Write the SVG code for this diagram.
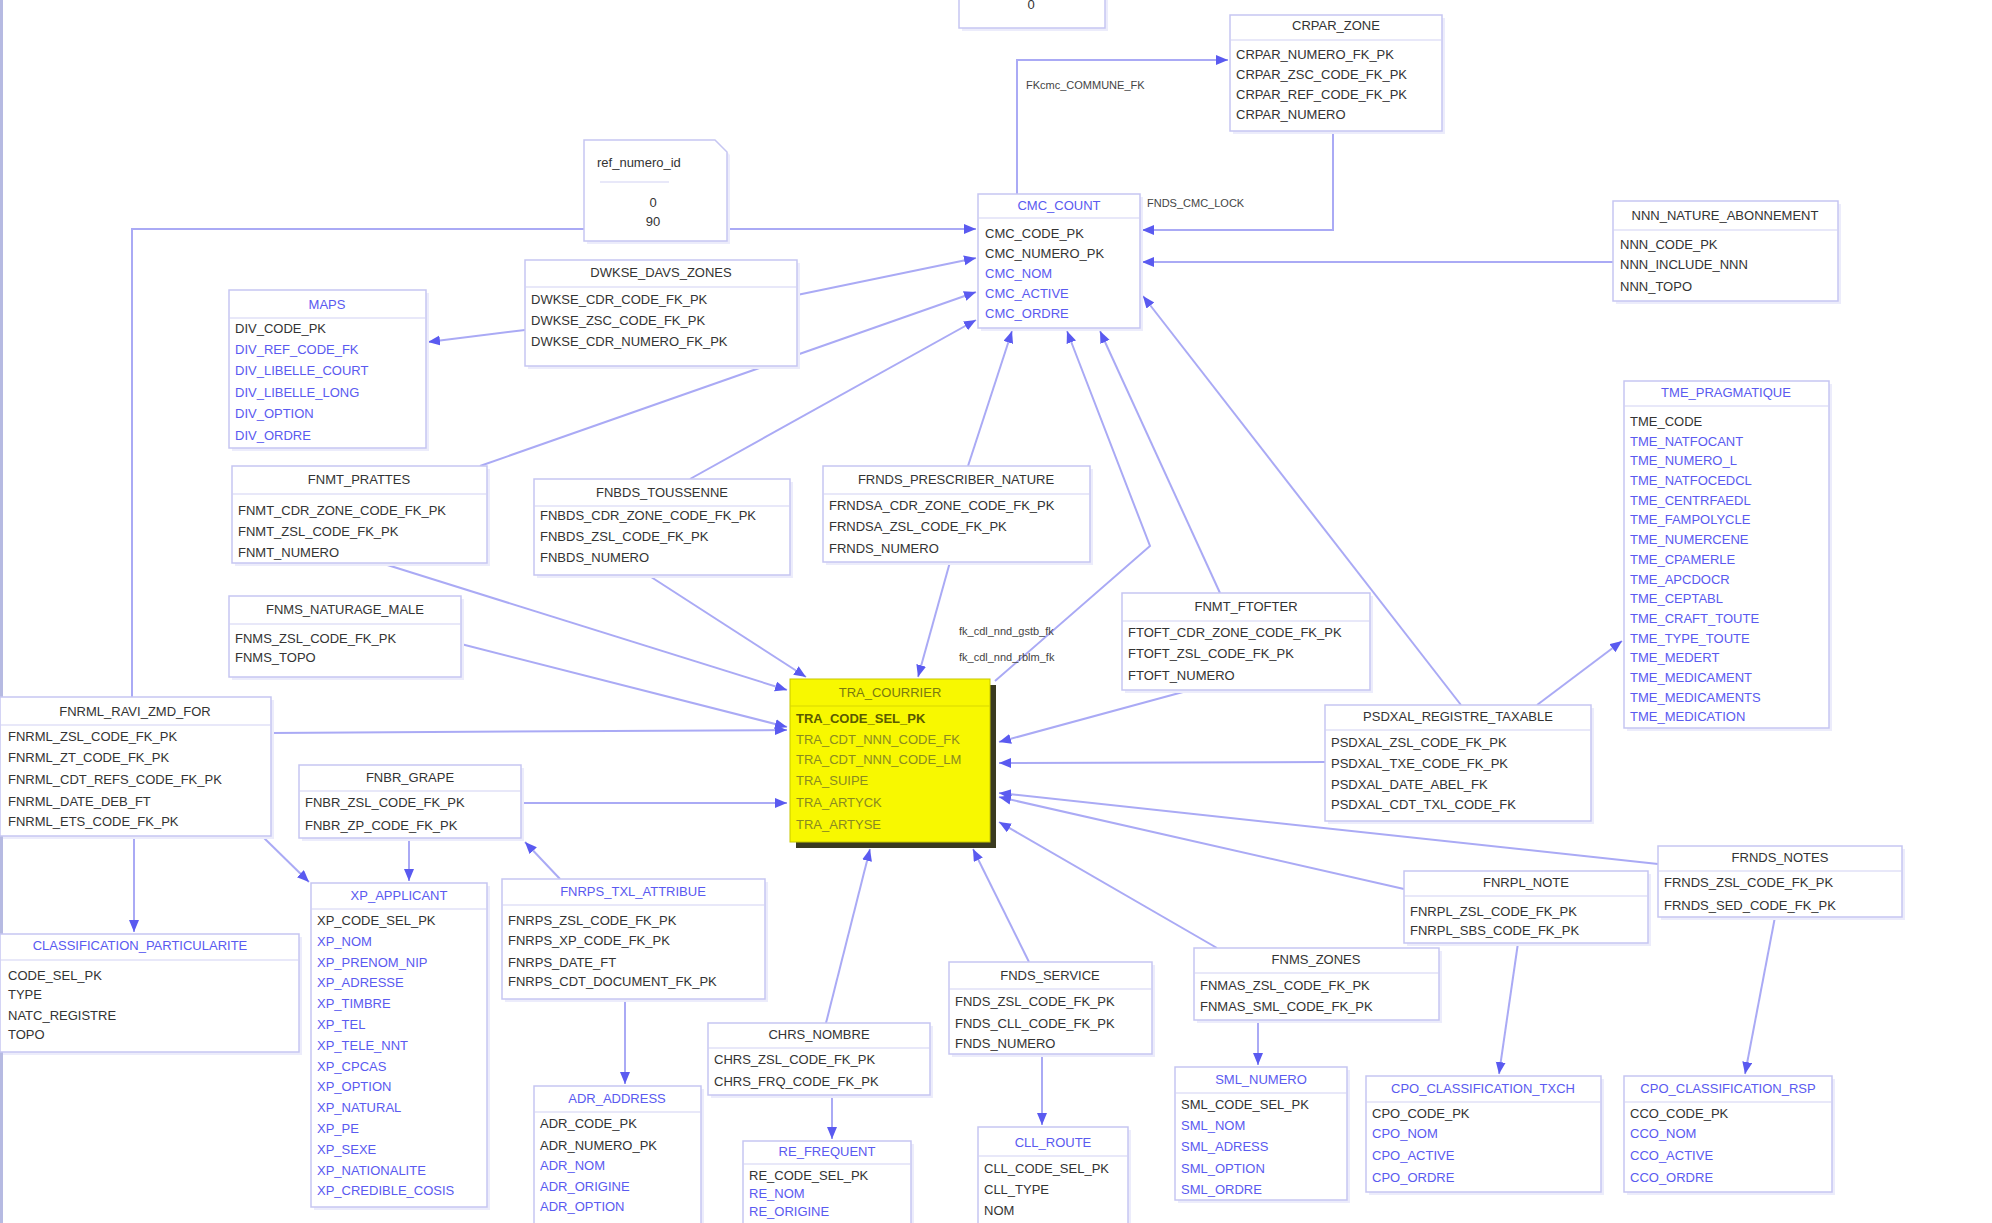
<svg xmlns="http://www.w3.org/2000/svg" width="1992" height="1223" viewBox="0 0 1992 1223">
<style>
text{font-family:"Liberation Sans",Arial,sans-serif;font-size:13px}
.box{fill:#fff;stroke:#c6c6f2;stroke-width:1.5}
.sh{fill:#ececfb}
.sep{stroke:#d2d2f4;stroke-width:1.2}
.h{fill:#333;text-anchor:middle}
.hb{fill:#5a5af0;text-anchor:middle}
.r{fill:#333}
.rb{fill:#5a5af0}
.lbl{fill:#444;font-size:11px}
.e{fill:none;stroke:#aaaaf5;stroke-width:2}
.yh{fill:#7a7a10;text-anchor:middle}
.yr{fill:#8a8a20}
.yk{fill:#5a5a00;font-weight:bold}
</style>
<defs>
<marker id="ah" markerUnits="userSpaceOnUse" markerWidth="14" markerHeight="12" refX="12" refY="5" orient="auto">
<path d="M0,0 L12,5 L0,10 z" fill="#5a5af0"/>
</marker>
</defs>
<rect x="0" y="0" width="1992" height="1223" fill="#fff"/>
<rect x="0" y="0" width="3" height="1223" fill="#b6bae2"/>

<g id="connectors" marker-end="url(#ah)">
<path class="e" d="M1017,194 V60 H1228"/>
<path class="e" d="M1333,131 V230 H1142"/>
<path class="e" d="M1613,262 H1142"/>
<path class="e" d="M1461,705 L1143,296"/>
<path class="e" d="M132,697 V229 H976"/>
<path class="e" d="M797,295 L976,258"/>
<path class="e" d="M480,466 L976,292"/>
<path class="e" d="M690,479 L976,320"/>
<path class="e" d="M968,466 L1012,331"/>
<path class="e" d="M995,681 L1150,546 L1067,331"/>
<path class="e" d="M1220,593 L1100,331"/>
<path class="e" d="M648,575 L806,677"/>
<path class="e" d="M950,562 L918,677"/>
<path class="e" d="M381,563 L787,690"/>
<path class="e" d="M461,644 L787,727"/>
<path class="e" d="M271,733 L787,730"/>
<path class="e" d="M521,803 L787,803"/>
<path class="e" d="M1194,689 L999,742"/>
<path class="e" d="M1325,762 L999,763"/>
<path class="e" d="M1658,864 L999,793"/>
<path class="e" d="M1404,889 L999,797"/>
<path class="e" d="M1217,948 L999,822"/>
<path class="e" d="M826,1023 L870,849"/>
<path class="e" d="M1029,962 L973,849"/>
<path class="e" d="M525,330 L428,342"/>
<path class="e" d="M409,838 V881"/>
<path class="e" d="M262,836 L309,882"/>
<path class="e" d="M560,879 L525,842"/>
<path class="e" d="M134,836 V932"/>
<path class="e" d="M625,999 V1084"/>
<path class="e" d="M832,1095 V1139"/>
<path class="e" d="M1042,1054 V1125"/>
<path class="e" d="M1258,1020 V1065"/>
<path class="e" d="M1518,943 L1499,1074"/>
<path class="e" d="M1775,917 L1745,1074"/>
<path class="e" d="M1537,705 L1622,641"/>
</g>

<g id="edge-labels">
<text class="lbl" x="1026" y="89">FKcmc_COMMUNE_FK</text>
<text class="lbl" x="1147" y="207">FNDS_CMC_LOCK</text>
<text class="lbl" x="959" y="635">fk_cdl_nnd_gstb_fk</text>
<text class="lbl" x="959" y="661">fk_cdl_nnd_rblm_fk</text>
</g>

<g id="n_top">
<rect class="sh" x="962" y="-3" width="146" height="34"/>
<rect class="box" x="959" y="-6" width="146" height="34"/>
<text class="h" x="1031" y="9">0</text>
</g>

<g id="n_crpar_zone">
<rect class="sh" x="1233" y="18" width="212" height="116"/>
<rect class="box" x="1230" y="15" width="212" height="116"/>
<text class="h" x="1336" y="30">CRPAR_ZONE</text>
<line class="sep" x1="1230" y1="40" x2="1442" y2="40"/>
<text class="r" x="1236" y="59">CRPAR_NUMERO_FK_PK</text>
<text class="r" x="1236" y="79">CRPAR_ZSC_CODE_FK_PK</text>
<text class="r" x="1236" y="99">CRPAR_REF_CODE_FK_PK</text>
<text class="r" x="1236" y="119">CRPAR_NUMERO</text>
</g>

<g id="n_ref_numero">
<path d="M587,143 H718 L730,155 V244 H587 Z" class="sh"/>
<path d="M584,140 H715 L727,152 V241 H584 Z" class="box"/>
<text class="r" x="597" y="167">ref_numero_id</text>
<line class="sep" x1="600" y1="182" x2="669" y2="182" stroke="#999"/>
<text class="h" x="653" y="207">0</text>
<text class="h" x="653" y="226">90</text>
</g>

<g id="n_cmc_count">
<rect class="sh" x="981" y="197" width="162" height="134"/>
<rect class="box" x="978" y="194" width="162" height="134"/>
<text class="hb" x="1059" y="210">CMC_COUNT</text>
<line class="sep" x1="978" y1="218" x2="1140" y2="218"/>
<text class="r" x="985" y="238">CMC_CODE_PK</text>
<text class="r" x="985" y="258">CMC_NUMERO_PK</text>
<text class="rb" x="985" y="278">CMC_NOM</text>
<text class="rb" x="985" y="298">CMC_ACTIVE</text>
<text class="rb" x="985" y="318">CMC_ORDRE</text>
</g>

<g id="n_nnn_nature">
<rect class="sh" x="1616" y="204" width="225" height="100"/>
<rect class="box" x="1613" y="201" width="225" height="100"/>
<text class="h" x="1725" y="220">NNN_NATURE_ABONNEMENT</text>
<line class="sep" x1="1613" y1="230" x2="1838" y2="230"/>
<text class="r" x="1620" y="249">NNN_CODE_PK</text>
<text class="r" x="1620" y="269">NNN_INCLUDE_NNN</text>
<text class="r" x="1620" y="291">NNN_TOPO</text>
</g>

<g id="n_dwkse">
<rect class="sh" x="528" y="263" width="272" height="106"/>
<rect class="box" x="525" y="260" width="272" height="106"/>
<text class="h" x="661" y="277">DWKSE_DAVS_ZONES</text>
<line class="sep" x1="525" y1="287" x2="797" y2="287"/>
<text class="r" x="531" y="304">DWKSE_CDR_CODE_FK_PK</text>
<text class="r" x="531" y="325">DWKSE_ZSC_CODE_FK_PK</text>
<text class="r" x="531" y="346">DWKSE_CDR_NUMERO_FK_PK</text>
</g>

<g id="n_maps">
<rect class="sh" x="232" y="293" width="197" height="158"/>
<rect class="box" x="229" y="290" width="197" height="158"/>
<text class="hb" x="327" y="309">MAPS</text>
<line class="sep" x1="229" y1="318" x2="426" y2="318"/>
<text class="r" x="235" y="333">DIV_CODE_PK</text>
<text class="rb" x="235" y="354">DIV_REF_CODE_FK</text>
<text class="rb" x="235" y="375">DIV_LIBELLE_COURT</text>
<text class="rb" x="235" y="397">DIV_LIBELLE_LONG</text>
<text class="rb" x="235" y="418">DIV_OPTION</text>
<text class="rb" x="235" y="440">DIV_ORDRE</text>
</g>

<g id="n_fnmt_prattes">
<rect class="sh" x="235" y="469" width="255" height="97"/>
<rect class="box" x="232" y="466" width="255" height="97"/>
<text class="h" x="359" y="484">FNMT_PRATTES</text>
<line class="sep" x1="232" y1="494" x2="487" y2="494"/>
<text class="r" x="238" y="515">FNMT_CDR_ZONE_CODE_FK_PK</text>
<text class="r" x="238" y="536">FNMT_ZSL_CODE_FK_PK</text>
<text class="r" x="238" y="557">FNMT_NUMERO</text>
</g>

<g id="n_fnbds">
<rect class="sh" x="537" y="482" width="256" height="96"/>
<rect class="box" x="534" y="479" width="256" height="96"/>
<text class="h" x="662" y="497">FNBDS_TOUSSENNE</text>
<line class="sep" x1="534" y1="506" x2="790" y2="506"/>
<text class="r" x="540" y="520">FNBDS_CDR_ZONE_CODE_FK_PK</text>
<text class="r" x="540" y="541">FNBDS_ZSL_CODE_FK_PK</text>
<text class="r" x="540" y="562">FNBDS_NUMERO</text>
</g>

<g id="n_frnds_prescriber">
<rect class="sh" x="826" y="469" width="267" height="96"/>
<rect class="box" x="823" y="466" width="267" height="96"/>
<text class="h" x="956" y="484">FRNDS_PRESCRIBER_NATURE</text>
<line class="sep" x1="823" y1="494" x2="1090" y2="494"/>
<text class="r" x="829" y="510">FRNDSA_CDR_ZONE_CODE_FK_PK</text>
<text class="r" x="829" y="531">FRNDSA_ZSL_CODE_FK_PK</text>
<text class="r" x="829" y="553">FRNDS_NUMERO</text>
</g>

<g id="n_fnms_naturage">
<rect class="sh" x="232" y="599" width="232" height="81"/>
<rect class="box" x="229" y="596" width="232" height="81"/>
<text class="h" x="345" y="614">FNMS_NATURAGE_MALE</text>
<line class="sep" x1="229" y1="624" x2="461" y2="624"/>
<text class="r" x="235" y="643">FNMS_ZSL_CODE_FK_PK</text>
<text class="r" x="235" y="662">FNMS_TOPO</text>
</g>

<g id="n_fnmt_ftofter">
<rect class="sh" x="1125" y="596" width="248" height="97"/>
<rect class="box" x="1122" y="593" width="248" height="97"/>
<text class="h" x="1246" y="611">FNMT_FTOFTER</text>
<line class="sep" x1="1122" y1="621" x2="1370" y2="621"/>
<text class="r" x="1128" y="637">FTOFT_CDR_ZONE_CODE_FK_PK</text>
<text class="r" x="1128" y="658">FTOFT_ZSL_CODE_FK_PK</text>
<text class="r" x="1128" y="680">FTOFT_NUMERO</text>
</g>

<g id="n_tra_courrier">
<rect x="796" y="685" width="200" height="163" fill="#3a3a20"/>
<rect x="790" y="679" width="200" height="163" fill="#f8f800" stroke="#c8c800" stroke-width="1"/>
<text class="yh" x="890" y="697">TRA_COURRIER</text>
<line x1="790" y1="706" x2="990" y2="706" stroke="#d8d800"/>
<text class="yk" x="796" y="723">TRA_CODE_SEL_PK</text>
<text class="yr" x="796" y="744">TRA_CDT_NNN_CODE_FK</text>
<text class="yr" x="796" y="764">TRA_CDT_NNN_CODE_LM</text>
<text class="yr" x="796" y="785">TRA_SUIPE</text>
<text class="yr" x="796" y="807">TRA_ARTYCK</text>
<text class="yr" x="796" y="829">TRA_ARTYSE</text>
</g>

<g id="n_fnrml">
<rect class="sh" x="3" y="700" width="271" height="139"/>
<rect class="box" x="0" y="697" width="271" height="139"/>
<text class="h" x="135" y="716">FNRML_RAVI_ZMD_FOR</text>
<line class="sep" x1="0" y1="725" x2="271" y2="725"/>
<text class="r" x="8" y="741">FNRML_ZSL_CODE_FK_PK</text>
<text class="r" x="8" y="762">FNRML_ZT_CODE_FK_PK</text>
<text class="r" x="8" y="784">FNRML_CDT_REFS_CODE_FK_PK</text>
<text class="r" x="8" y="806">FNRML_DATE_DEB_FT</text>
<text class="r" x="8" y="826">FNRML_ETS_CODE_FK_PK</text>
</g>

<g id="n_fnbr_grape">
<rect class="sh" x="302" y="768" width="222" height="73"/>
<rect class="box" x="299" y="765" width="222" height="73"/>
<text class="h" x="410" y="782">FNBR_GRAPE</text>
<line class="sep" x1="299" y1="791" x2="521" y2="791"/>
<text class="r" x="305" y="807">FNBR_ZSL_CODE_FK_PK</text>
<text class="r" x="305" y="830">FNBR_ZP_CODE_FK_PK</text>
</g>

<g id="n_psdxal">
<rect class="sh" x="1328" y="708" width="266" height="116"/>
<rect class="box" x="1325" y="705" width="266" height="116"/>
<text class="h" x="1458" y="721">PSDXAL_REGISTRE_TAXABLE</text>
<line class="sep" x1="1325" y1="730" x2="1591" y2="730"/>
<text class="r" x="1331" y="747">PSDXAL_ZSL_CODE_FK_PK</text>
<text class="r" x="1331" y="768">PSDXAL_TXE_CODE_FK_PK</text>
<text class="r" x="1331" y="789">PSDXAL_DATE_ABEL_FK</text>
<text class="r" x="1331" y="809">PSDXAL_CDT_TXL_CODE_FK</text>
</g>

<g id="n_tme_pragmatique">
<rect class="sh" x="1627" y="384" width="205" height="347"/>
<rect class="box" x="1624" y="381" width="205" height="347"/>
<text class="hb" x="1726" y="397">TME_PRAGMATIQUE</text>
<line class="sep" x1="1624" y1="406" x2="1829" y2="406"/>
<text class="r" x="1630" y="426">TME_CODE</text>
<text class="rb" x="1630" y="446">TME_NATFOCANT</text>
<text class="rb" x="1630" y="465">TME_NUMERO_L</text>
<text class="rb" x="1630" y="485">TME_NATFOCEDCL</text>
<text class="rb" x="1630" y="505">TME_CENTRFAEDL</text>
<text class="rb" x="1630" y="524">TME_FAMPOLYCLE</text>
<text class="rb" x="1630" y="544">TME_NUMERCENE</text>
<text class="rb" x="1630" y="564">TME_CPAMERLE</text>
<text class="rb" x="1630" y="584">TME_APCDOCR</text>
<text class="rb" x="1630" y="603">TME_CEPTABL</text>
<text class="rb" x="1630" y="623">TME_CRAFT_TOUTE</text>
<text class="rb" x="1630" y="643">TME_TYPE_TOUTE</text>
<text class="rb" x="1630" y="662">TME_MEDERT</text>
<text class="rb" x="1630" y="682">TME_MEDICAMENT</text>
<text class="rb" x="1630" y="702">TME_MEDICAMENTS</text>
<text class="rb" x="1630" y="721">TME_MEDICATION</text>
</g>

<g id="n_frnds_notes">
<rect class="sh" x="1661" y="849" width="244" height="71"/>
<rect class="box" x="1658" y="846" width="244" height="71"/>
<text class="h" x="1780" y="862">FRNDS_NOTES</text>
<line class="sep" x1="1658" y1="871" x2="1902" y2="871"/>
<text class="r" x="1664" y="887">FRNDS_ZSL_CODE_FK_PK</text>
<text class="r" x="1664" y="910">FRNDS_SED_CODE_FK_PK</text>
</g>

<g id="n_fnrpl_note">
<rect class="sh" x="1407" y="874" width="244" height="72"/>
<rect class="box" x="1404" y="871" width="244" height="72"/>
<text class="h" x="1526" y="887">FNRPL_NOTE</text>
<line class="sep" x1="1404" y1="896" x2="1648" y2="896"/>
<text class="r" x="1410" y="916">FNRPL_ZSL_CODE_FK_PK</text>
<text class="r" x="1410" y="935">FNRPL_SBS_CODE_FK_PK</text>
</g>

<g id="n_fnms_zones">
<rect class="sh" x="1197" y="951" width="245" height="72"/>
<rect class="box" x="1194" y="948" width="245" height="72"/>
<text class="h" x="1316" y="964">FNMS_ZONES</text>
<line class="sep" x1="1194" y1="973" x2="1439" y2="973"/>
<text class="r" x="1200" y="990">FNMAS_ZSL_CODE_FK_PK</text>
<text class="r" x="1200" y="1011">FNMAS_SML_CODE_FK_PK</text>
</g>

<g id="n_fnds_service">
<rect class="sh" x="952" y="965" width="203" height="92"/>
<rect class="box" x="949" y="962" width="203" height="92"/>
<text class="h" x="1050" y="980">FNDS_SERVICE</text>
<line class="sep" x1="949" y1="989" x2="1152" y2="989"/>
<text class="r" x="955" y="1006">FNDS_ZSL_CODE_FK_PK</text>
<text class="r" x="955" y="1028">FNDS_CLL_CODE_FK_PK</text>
<text class="r" x="955" y="1048">FNDS_NUMERO</text>
</g>

<g id="n_chrs">
<rect class="sh" x="711" y="1026" width="222" height="72"/>
<rect class="box" x="708" y="1023" width="222" height="72"/>
<text class="h" x="819" y="1039">CHRS_NOMBRE</text>
<line class="sep" x1="708" y1="1048" x2="930" y2="1048"/>
<text class="r" x="714" y="1064">CHRS_ZSL_CODE_FK_PK</text>
<text class="r" x="714" y="1086">CHRS_FRQ_CODE_FK_PK</text>
</g>

<g id="n_fnrps_txl">
<rect class="sh" x="505" y="882" width="263" height="120"/>
<rect class="box" x="502" y="879" width="263" height="120"/>
<text class="hb" x="633" y="896">FNRPS_TXL_ATTRIBUE</text>
<line class="sep" x1="502" y1="905" x2="765" y2="905"/>
<text class="r" x="508" y="925">FNRPS_ZSL_CODE_FK_PK</text>
<text class="r" x="508" y="945">FNRPS_XP_CODE_FK_PK</text>
<text class="r" x="508" y="967">FNRPS_DATE_FT</text>
<text class="r" x="508" y="986">FNRPS_CDT_DOCUMENT_FK_PK</text>
</g>

<g id="n_xp_applicant">
<rect class="sh" x="314" y="886" width="176" height="324"/>
<rect class="box" x="311" y="883" width="176" height="324"/>
<text class="hb" x="399" y="900">XP_APPLICANT</text>
<line class="sep" x1="311" y1="909" x2="487" y2="909"/>
<text class="r" x="317" y="925">XP_CODE_SEL_PK</text>
<text class="rb" x="317" y="946">XP_NOM</text>
<text class="rb" x="317" y="967">XP_PRENOM_NIP</text>
<text class="rb" x="317" y="987">XP_ADRESSE</text>
<text class="rb" x="317" y="1008">XP_TIMBRE</text>
<text class="rb" x="317" y="1029">XP_TEL</text>
<text class="rb" x="317" y="1050">XP_TELE_NNT</text>
<text class="rb" x="317" y="1071">XP_CPCAS</text>
<text class="rb" x="317" y="1091">XP_OPTION</text>
<text class="rb" x="317" y="1112">XP_NATURAL</text>
<text class="rb" x="317" y="1133">XP_PE</text>
<text class="rb" x="317" y="1154">XP_SEXE</text>
<text class="rb" x="317" y="1175">XP_NATIONALITE</text>
<text class="rb" x="317" y="1195">XP_CREDIBLE_COSIS</text>
</g>

<g id="n_classification">
<rect class="sh" x="3" y="937" width="299" height="118"/>
<rect class="box" x="0" y="934" width="299" height="118"/>
<text class="hb" x="140" y="950">CLASSIFICATION_PARTICULARITE</text>
<line class="sep" x1="0" y1="960" x2="299" y2="960"/>
<text class="r" x="8" y="980">CODE_SEL_PK</text>
<text class="r" x="8" y="999">TYPE</text>
<text class="r" x="8" y="1020">NATC_REGISTRE</text>
<text class="r" x="8" y="1039">TOPO</text>
</g>

<g id="n_adr_address">
<rect class="sh" x="537" y="1089" width="167" height="150"/>
<rect class="box" x="534" y="1086" width="167" height="150"/>
<text class="hb" x="617" y="1103">ADR_ADDRESS</text>
<line class="sep" x1="534" y1="1112" x2="701" y2="1112"/>
<text class="r" x="540" y="1128">ADR_CODE_PK</text>
<text class="r" x="540" y="1150">ADR_NUMERO_PK</text>
<text class="rb" x="540" y="1170">ADR_NOM</text>
<text class="rb" x="540" y="1191">ADR_ORIGINE</text>
<text class="rb" x="540" y="1211">ADR_OPTION</text>
</g>

<g id="n_re_frequent">
<rect class="sh" x="746" y="1144" width="168" height="95"/>
<rect class="box" x="743" y="1141" width="168" height="95"/>
<text class="hb" x="827" y="1156">RE_FREQUENT</text>
<line class="sep" x1="743" y1="1164" x2="911" y2="1164"/>
<text class="r" x="749" y="1180">RE_CODE_SEL_PK</text>
<text class="rb" x="749" y="1198">RE_NOM</text>
<text class="rb" x="749" y="1216">RE_ORIGINE</text>
</g>

<g id="n_cll_route">
<rect class="sh" x="981" y="1130" width="150" height="110"/>
<rect class="box" x="978" y="1127" width="150" height="110"/>
<text class="hb" x="1053" y="1147">CLL_ROUTE</text>
<line class="sep" x1="978" y1="1156" x2="1128" y2="1156"/>
<text class="r" x="984" y="1173">CLL_CODE_SEL_PK</text>
<text class="r" x="984" y="1194">CLL_TYPE</text>
<text class="r" x="984" y="1215">NOM</text>
</g>

<g id="n_sml_numero">
<rect class="sh" x="1178" y="1070" width="172" height="133"/>
<rect class="box" x="1175" y="1067" width="172" height="133"/>
<text class="hb" x="1261" y="1084">SML_NUMERO</text>
<line class="sep" x1="1175" y1="1093" x2="1347" y2="1093"/>
<text class="r" x="1181" y="1109">SML_CODE_SEL_PK</text>
<text class="rb" x="1181" y="1130">SML_NOM</text>
<text class="rb" x="1181" y="1151">SML_ADRESS</text>
<text class="rb" x="1181" y="1173">SML_OPTION</text>
<text class="rb" x="1181" y="1194">SML_ORDRE</text>
</g>

<g id="n_cpo_txch">
<rect class="sh" x="1369" y="1079" width="235" height="116"/>
<rect class="box" x="1366" y="1076" width="235" height="116"/>
<text class="hb" x="1483" y="1093">CPO_CLASSIFICATION_TXCH</text>
<line class="sep" x1="1366" y1="1102" x2="1601" y2="1102"/>
<text class="r" x="1372" y="1118">CPO_CODE_PK</text>
<text class="rb" x="1372" y="1138">CPO_NOM</text>
<text class="rb" x="1372" y="1160">CPO_ACTIVE</text>
<text class="rb" x="1372" y="1182">CPO_ORDRE</text>
</g>

<g id="n_cpo_rsp">
<rect class="sh" x="1627" y="1079" width="208" height="116"/>
<rect class="box" x="1624" y="1076" width="208" height="116"/>
<text class="hb" x="1728" y="1093">CPO_CLASSIFICATION_RSP</text>
<line class="sep" x1="1624" y1="1102" x2="1832" y2="1102"/>
<text class="r" x="1630" y="1118">CCO_CODE_PK</text>
<text class="rb" x="1630" y="1138">CCO_NOM</text>
<text class="rb" x="1630" y="1160">CCO_ACTIVE</text>
<text class="rb" x="1630" y="1182">CCO_ORDRE</text>
</g>
</svg>
